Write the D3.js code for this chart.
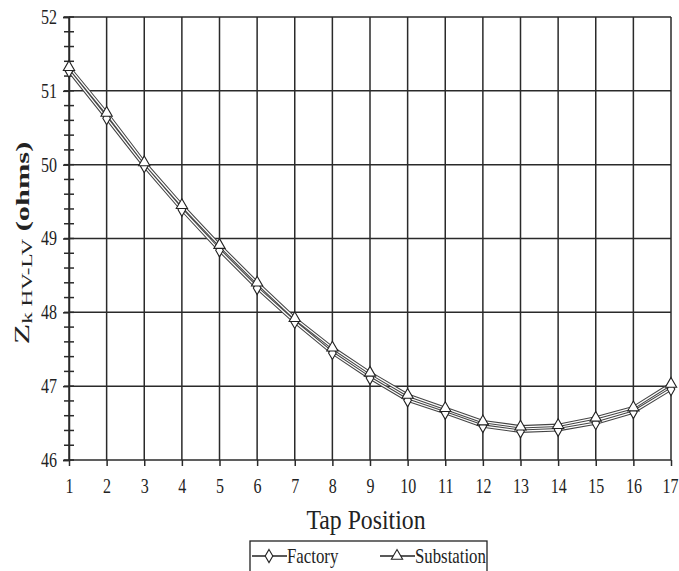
<!DOCTYPE html>
<html>
<head>
<meta charset="utf-8">
<script src="https://cdn.jsdelivr.net/npm/d3@7"></script>
<style>
  body { margin: 0; background: #fff; }
  text { font-family: "Liberation Serif", "Times New Roman", serif; fill: #222; }
</style>
</head>
<body>
<svg id="chart" width="679" height="571"></svg>
<script>
const taps = [1, 2, 3, 4, 5, 6, 7, 8, 9, 10, 11, 12, 13, 14, 15, 16, 17];
const factory = [51.27, 50.63, 49.98, 49.39, 48.84, 48.33, 47.87, 47.45, 47.11, 46.81, 46.64, 46.46, 46.39, 46.41, 46.50, 46.65, 46.96];
const substation = [51.32, 50.70, 50.03, 49.45, 48.91, 48.40, 47.92, 47.52, 47.18, 46.88, 46.70, 46.52, 46.45, 46.47, 46.57, 46.71, 47.03];
const yTicks = [46, 47, 48, 49, 50, 51, 52];

const svg = d3.select('#chart');
const margin = { top: 17, right: 8, bottom: 111, left: 69 };
const width = +svg.attr('width') - margin.left - margin.right;
const height = +svg.attr('height') - margin.top - margin.bottom;
const g = svg.append('g').attr('transform', `translate(${margin.left},${margin.top})`);

const x = d3.scaleLinear().domain([1, 17]).range([0, width]);
const y = d3.scaleLinear().domain([46, 52]).range([height, 0]);
const squish = 0.8; // the picture's text is narrow and tall

// grid
g.append('g')
  .selectAll('line')
  .data(taps)
  .join('line')
  .attr('x1', d => x(d)).attr('x2', d => x(d))
  .attr('y1', 0).attr('y2', height)
  .attr('stroke', '#2a2a2a').attr('stroke-width', 1.5);
g.append('g')
  .selectAll('line')
  .data(yTicks)
  .join('line')
  .attr('x1', 0).attr('x2', width)
  .attr('y1', d => y(d)).attr('y2', d => y(d))
  .attr('stroke', '#2a2a2a').attr('stroke-width', 1.5);

// x axis
const xAxis = g.append('g')
  .attr('transform', `translate(0,${height})`)
  .call(d3.axisBottom(x).tickValues(taps).tickFormat(d3.format('d')).tickSize(6).tickPadding(13));
xAxis.select('.domain').remove();
xAxis.selectAll('line').attr('stroke', '#2a2a2a').attr('stroke-width', 1.5);
xAxis.selectAll('text')
  .attr('font-size', 20).attr('font-family', '"Liberation Serif", serif').attr('fill', '#222')
  .attr('transform', d => `translate(${d === 17 ? -1 : 0},0) scale(${squish},1)`);

// y axis, minor ticks cross the axis
const minor = d3.range(46, 52.001, 0.2);
g.append('g')
  .selectAll('line')
  .data(minor)
  .join('line')
  .attr('x1', -5).attr('x2', 5)
  .attr('y1', d => y(d)).attr('y2', d => y(d))
  .attr('stroke', '#2a2a2a').attr('stroke-width', 1.5);
const yAxis = g.append('g')
  .call(d3.axisLeft(y).tickValues(yTicks).tickFormat(d3.format('d')).tickSize(6));
yAxis.select('.domain').attr('stroke', '#2a2a2a').attr('stroke-width', 1.5);
yAxis.selectAll('line').attr('stroke', '#2a2a2a').attr('stroke-width', 1.5);
yAxis.selectAll('text')
  .attr('x', 0).attr('font-size', 20).attr('font-family', '"Liberation Serif", serif').attr('fill', '#222')
  .attr('transform', `translate(-12,0) scale(${squish},1)`);

// lines: dark outline with a white core
const line = d3.line().x((d, i) => x(taps[i])).y(d => y(d));
[factory, substation].forEach(series => {
  g.append('path').datum(series)
    .attr('fill', 'none').attr('stroke', '#444').attr('stroke-width', 3.4)
    .attr('stroke-linejoin', 'round').attr('d', line);
});
[factory, substation].forEach(series => {
  g.append('path').datum(series)
    .attr('fill', 'none').attr('stroke', '#fff').attr('stroke-width', 1.3)
    .attr('stroke-linejoin', 'round').attr('d', line);
});

const diamond = d3.symbol().type(d3.symbolDiamond).size(50);
const triangle = d3.symbol().type(d3.symbolTriangle).size(55);

g.append('g').selectAll('path')
  .data(factory)
  .join('path')
  .attr('transform', (d, i) => `translate(${x(taps[i])},${y(d)})`)
  .attr('d', diamond)
  .attr('fill', '#fff').attr('stroke', '#222').attr('stroke-width', 1.1);
g.append('g').selectAll('path')
  .data(substation)
  .join('path')
  .attr('transform', (d, i) => `translate(${x(taps[i])},${y(d)})`)
  .attr('d', triangle)
  .attr('fill', '#fff').attr('stroke', '#222').attr('stroke-width', 1.1);

// axis titles
svg.append('text')
  .attr('transform', `translate(${margin.left + width / 2 - 4},529) scale(0.88,1)`)
  .attr('text-anchor', 'middle').attr('font-size', 27)
  .text('Tap Position');

const yt = svg.append('text')
  .attr('transform', 'translate(29,243) rotate(-90) scale(1.05,0.65)')
  .attr('text-anchor', 'middle').attr('font-size', 29);
yt.append('tspan').attr('font-size', 32).text('Z');
yt.append('tspan').attr('font-size', 22).attr('dy', 5).text('k HV-LV');
yt.append('tspan').attr('dy', -5).attr('font-weight', 'bold').text(' (ohms)');

// legend
const leg = svg.append('g').attr('transform', 'translate(250,541)');
leg.append('rect').attr('width', 237).attr('height', 34)
  .attr('fill', '#fff').attr('stroke', '#222').attr('stroke-width', 1.3);
const items = [
  { name: 'Factory', sym: diamond, x: 2 },
  { name: 'Substation', sym: triangle, x: 130 }
];
items.forEach(it => {
  const gi = leg.append('g').attr('transform', `translate(${it.x},15)`);
  gi.append('line').attr('x1', 0).attr('x2', 35).attr('stroke', '#222').attr('stroke-width', 1.3);
  gi.append('path').attr('transform', 'translate(17,0)').attr('d', it.sym)
    .attr('fill', '#fff').attr('stroke', '#222').attr('stroke-width', 1.1);
  gi.append('text').attr('transform', `translate(35,7) scale(${squish},1)`)
    .attr('font-size', 21).text(it.name);
});
</script>
</body>
</html>
